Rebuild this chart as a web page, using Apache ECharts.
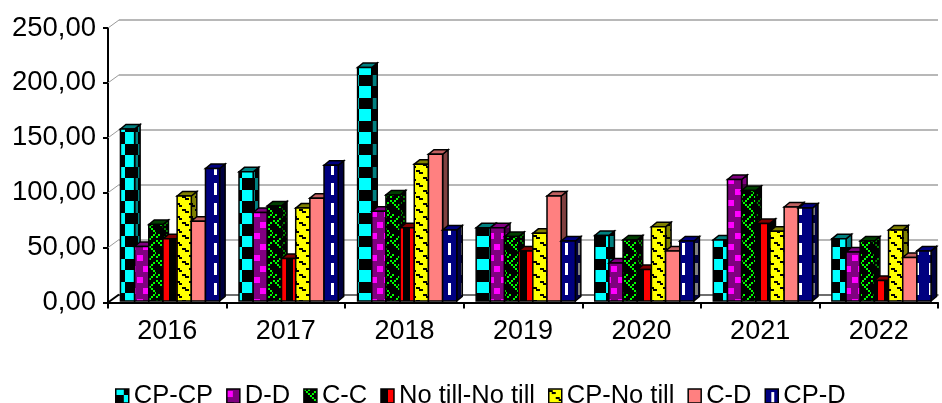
<!DOCTYPE html>
<html><head><meta charset="utf-8">
<script src="https://cdn.jsdelivr.net/npm/echarts@6/dist/echarts.min.js"></script>
<style>html,body{margin:0;padding:0;background:#fff}#c{width:942px;height:403px}</style></head>
<body><div id="c"></div>
<script>
const years = ['2016','2017','2018','2019','2020','2021','2022'];
const cpCp = [158,119,214,68,61,57,58];
const dD = [51,82,83,68,36,112,46];
const cC = [71,88,98,60,57,102,56];
const noTill = [58,40,68,47,30,72,20];
const cpNoTill = [97,86,126,63,69,65,66];
const cD = [74,95,135,97,47,87,41];
const cpD = [122,125,66,56,56,86,47];
const yTicks = [0,50,100,150,200,250];

function tile(w,h,draw){
  const c=document.createElement('canvas');c.width=w;c.height=h;
  const g=c.getContext('2d');draw(g,w,h);
  return {image:c,repeat:'repeat'};
}
function fillAll(g,w,h,bg){g.fillStyle=bg;g.fillRect(0,0,w,h);}
const painters = {
  checker:(fg,bg)=>tile(26,23,(g,w,h)=>{
    for(let x=0;x<w;x++)for(let y=0;y<h;y++){
      const a=((x+5)%26)<13, b=((y+6)%23)<11.5;
      g.fillStyle=(a===b)?fg:bg;g.fillRect(x,y,1,1);
    }}),
  dots:(fg,bg)=>tile(13,22,(g,w,h)=>{fillAll(g,w,h,bg);g.fillStyle=fg;g.fillRect(0,2,6,6);g.fillRect(7,13,6,6);}),
  trellis:(fg,bg)=>tile(13,20,(g,w,h)=>{fillAll(g,w,h,bg);g.fillStyle=fg;
    [[0,0],[2,2],[4,4],[6,6],[8,8],[10,10],[12,12],[10,14],[8,16],[6,18],[4,20],[10,2],[8,4],[2,14],[0,16]].forEach(p=>g.fillRect(p[0],p[1]%20,2,2));}),
  stripes:(fg,bg)=>tile(13,13,(g,w,h)=>{fillAll(g,w,h,bg);g.fillStyle=fg;g.fillRect(7,0,6,13);}),
  shingle:(fg,bg)=>tile(13,13,(g,w,h)=>{fillAll(g,w,h,bg);g.fillStyle=fg;
    g.fillRect(0,1,4,2);g.fillRect(3,3,4,2);g.fillRect(7,8,4,2);g.fillRect(10,10,3,2);}),
  solid:(fg)=>fg,
  dashes:(fg,bg)=>tile(13,20,(g,w,h)=>{fillAll(g,w,h,bg);g.fillStyle=fg;g.fillRect(6,3,3,12);})
};
const seriesDefs = [
  ['CP-CP',cpCp,'checker','#00FFFF','#000000','#008080','#000000','#008080'],
  ['D-D',dD,'dots','#FF00FF','#800080','#800080','#400040','#800080'],
  ['C-C',cC,'trellis','#00FF00','#000000','#008000','#000000','#004000'],
  ['No till-No till',noTill,'stripes','#FF0000','#000000','#000000','#000000','#800000'],
  ['CP-No till',cpNoTill,'shingle','#000000','#FFFF00','#000000','#808000','#808000'],
  ['C-D',cD,'solid','#FF8080','#FF8080','#804040','#804040','#C06060'],
  ['CP-D',cpD,'dashes','#FFFFFF','#000080','#808080','#000040','#000080']
];
const DX=5.5, DY=4.5;
const series = seriesDefs.map((d,si)=>{
  const front=painters[d[2]](d[3],d[4]);
  const side=painters[d[2]](d[5],d[6]);
  return {
    name:d[0],type:'custom',xAxisIndex:0,yAxisIndex:0,z:5,clip:false,
    itemStyle:{color:front,borderColor:'#000',borderWidth:1.5},
    data:d[1].map((v,i)=>[i,v]),
    renderItem:(p,api)=>{
      const base=api.coord([api.value(0),0]);
      const top=api.coord([api.value(0),api.value(1)]);
      const band=api.size([1,0])[0];
      const w=band*0.1195;
      const x=base[0]-band/2+band*0.105+si*w;
      const yb=base[1]-1.5;
      const st={stroke:'#000',lineWidth:1.5};
      return {type:'group',children:[
        {type:'polygon',shape:{points:[[x+w,top[1]],[x+w+DX,top[1]-DY],[x+w+DX,yb-DY],[x+w,yb]]},style:{fill:side,...st}},
        {type:'polygon',shape:{points:[[x,top[1]],[x+DX,top[1]-DY],[x+w+DX,top[1]-DY],[x+w,top[1]]]},style:{fill:d[7],...st}},
        {type:'rect',shape:{x:x,y:top[1],width:w,height:yb-top[1]},style:{fill:front,...st}}
      ]};
    }
  };
});
series.push({
  type:'custom',silent:true,xAxisIndex:0,yAxisIndex:0,z:2,clip:false,
  data:yTicks.map(v=>[0,v]),
  renderItem:(p,api)=>{
    const c=api.coord([0,api.value(1)]);
    const band=api.size([1,0])[0];
    const x=c[0]-band/2;
    const isBase=api.value(1)===0;
    return {type:'line',shape:{x1:x,y1:c[1],x2:x+11,y2:c[1]-8},
      style:{stroke:isBase?'#000':'#999',lineWidth:isBase?2:1}};
  }
});
const chart=echarts.init(document.getElementById('c'),null,{renderer:'canvas'});
const txt={fontFamily:'"Liberation Sans",Arial,sans-serif',color:'#000'};
chart.setOption({
  animation:false,
  backgroundColor:'#fff',
  grid:[
    {left:108,top:28,width:830,height:274.5},
    {left:119,top:20,width:819,height:275}
  ],
  xAxis:[
    {type:'category',gridIndex:0,data:years,boundaryGap:true,
     axisLine:{lineStyle:{color:'#000',width:2}},
     axisTick:{show:true,alignWithLabel:false,length:6,lineStyle:{color:'#000',width:2}},
     axisLabel:{...txt,fontSize:27,margin:16},splitLine:{show:false}},
    {type:'category',gridIndex:1,data:years,show:true,
     axisLine:{show:true,lineStyle:{color:'#555',width:1.5}},axisTick:{show:false},axisLabel:{show:false},splitLine:{show:false}}
  ],
  yAxis:[
    {type:'value',gridIndex:0,min:0,max:250,interval:50,
     axisLine:{show:true,lineStyle:{color:'#000',width:2}},
     axisTick:{show:true,length:5,lineStyle:{color:'#000',width:2}},
     axisLabel:{...txt,fontSize:27.5,margin:12,padding:[3,0,0,0],formatter:v=>v.toFixed(2).replace('.',',')},splitLine:{show:false}},
    {type:'value',gridIndex:1,min:0,max:250,interval:50,
     axisLine:{show:false},axisTick:{show:false},axisLabel:{show:false},
     splitLine:{show:true,lineStyle:{color:'#a0a0a0',width:1.5}}}
  ],
  legend:{left:110,top:378,itemWidth:13,itemHeight:14,itemGap:13,icon:'rect',
    textStyle:{...txt,fontSize:25.5},
    itemStyle:{borderColor:'#000',borderWidth:1.5},
    data:seriesDefs.map(d=>d[0])},
  series:series
});
</script></body></html>
